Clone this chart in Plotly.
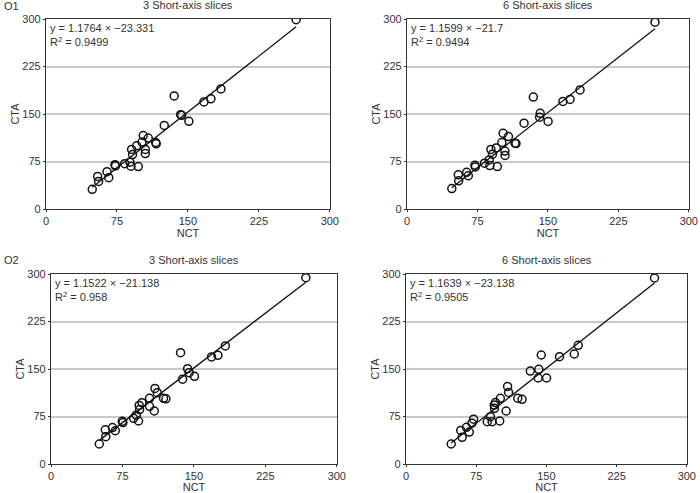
import plotly.graph_objects as go
from plotly.subplots import make_subplots

# ---- data (NCT vs CTA) ----
o1_3_nct = [48.9, 54.6, 55.6, 64.5, 66.3, 72.9, 73.5, 83.2, 88.7, 89.8, 90.5, 91.5, 95.8, 97.5, 102.8,
            101.5, 105, 105, 108.1, 116, 116.5, 125, 135.5, 142.3, 143.5, 151, 166.9, 174.3, 184.9, 264.4]
o1_3_cta = [31, 51.5, 43.6, 58.9, 49.5, 70, 68, 71.5, 74, 67.5, 94, 86, 99.8, 67, 116,
            105.6, 94, 87.5, 112, 105, 103, 131.9, 178.5, 149, 148, 138.5, 169, 174, 189.5, 299]

o1_6_nct = [47.7, 54.6, 55, 63.5, 65.3, 72.3, 72.8, 82.5, 87.5, 88.2, 89.3, 91, 95, 96.2, 102.3,
            101, 104.2, 104.4, 108, 115, 116, 124.6, 134.5, 141.8, 141.2, 150.2, 166, 173.6, 184.2, 264]
o1_6_cta = [32.3, 54, 44.5, 58, 52.5, 69, 66.5, 72.3, 77.5, 68.5, 94, 86.5, 96.5, 67, 119.6,
            105, 91.5, 84.5, 114.4, 104, 103.3, 135.5, 176.8, 151, 145, 138.3, 169.8, 173, 188, 295]

o2_3_nct = [50.7, 57, 57.5, 64.5, 67.5, 74.8, 75.5, 86.7, 89.5, 91.9, 92.6, 93, 95.5, 103.4, 103.4,
            108.4, 109.1, 111.5, 118.1, 120.6, 136, 138.1, 143.4, 145, 150.6, 168.5, 175.2, 183, 267.5]
o2_3_cta = [31.6, 54, 43.2, 57.5, 52.5, 67.5, 65.5, 72.1, 77, 67.9, 92.5, 86, 96.8, 103.7, 91,
            83.7, 119.3, 112.6, 103.7, 103, 175.8, 134, 150.5, 144.2, 138.5, 169, 171.6, 186.5, 294.2]

o2_6_nct = [48.3, 58.5, 60, 64.6, 67.6, 70.5, 72.2, 86.8, 90.3, 92, 94.3, 94.5, 95.6, 100.8, 100.1,
            107, 108.5, 109.6, 119.4, 124, 132.8, 144.5, 141.9, 141.2, 150.2, 164, 179.8, 184, 265.5]
o2_6_cta = [31.6, 53, 42.2, 58, 50.5, 64.5, 70.8, 66.8, 74.7, 66.8, 93, 88, 97, 103.7, 67.9,
            83.7, 122.5, 113, 104, 102.2, 146.8, 172.1, 149.5, 135.8, 135.8, 169.5, 173.7, 187.4, 293.7]

slopes = [1.1764, 1.1599, 1.1522, 1.1639]
intercepts = [-23.331, -21.7, -21.138, -23.138]
eq_text = ["y = 1.1764 × −23.331", "y = 1.1599 × −21.7", "y = 1.1522 × −21.138", "y = 1.1639 × −23.138"]
r2_text = ["0.9499", "0.9494", "0.958", "0.9505"]
titles = ["3 Short-axis slices", "6 Short-axis slices", "3 Short-axis slices", "6 Short-axis slices"]
tick_step = 75

series = [(o1_3_nct, o1_3_cta), (o1_6_nct, o1_6_cta), (o2_3_nct, o2_3_cta), (o2_6_nct, o2_6_cta)]

W, H = 700, 493
# plot areas in pixels: (left, right, top, bottom)
boxes = [(46, 330, 19, 209), (407, 689, 19, 209), (51, 337, 274, 464), (406, 687, 274, 464)]

FONT = "Liberation Sans, Arial, sans-serif"

fig = make_subplots(rows=2, cols=2)

for i, ((xs, ys), pos) in enumerate(zip(series, [(1, 1), (1, 2), (2, 1), (2, 2)])):
    r, c = pos
    x0, x1 = min(xs), max(xs)
    fig.add_trace(go.Scatter(
        x=[x0, x1], y=[slopes[i] * x0 + intercepts[i], slopes[i] * x1 + intercepts[i]],
        mode="lines", line=dict(color="#111", width=1.3), showlegend=False, hoverinfo="skip"),
        row=r, col=c)
    fig.add_trace(go.Scatter(
        x=xs, y=ys, mode="markers", showlegend=False,
        marker=dict(symbol="circle-open", size=8, color="#111", line=dict(width=1.5))),
        row=r, col=c)

axis_style = dict(tickmode="linear", tick0=0, dtick=tick_step, showline=True, mirror=True,
                  automargin=False, linecolor="#333", linewidth=1.2, ticks="outside", ticklen=2,
                  tickcolor="#333", ticklabeloverflow="allow",
                  tickfont=dict(family=FONT, size=11, color="#333"), zeroline=False, fixedrange=True)

for i, (l, rgt, t, b) in enumerate(boxes):
    n = "" if i == 0 else str(i + 1)
    fig.layout["xaxis" + n].update(
        domain=[l / W, rgt / W], showgrid=False, range=[0, 300.2],
        title=dict(text="NCT", font=dict(family=FONT, size=11, color="#333"), standoff=0),
        **axis_style)
    fig.layout["yaxis" + n].update(
        domain=[1 - b / H, 1 - t / H], showgrid=True, gridcolor="#c9c9c9", gridwidth=1.6,
        range=[0, 300],
        title=dict(text="CTA", font=dict(family=FONT, size=11, color="#333"), standoff=0),
        **axis_style)
    # panel title
    fig.add_annotation(x=(l + rgt) / 2 / W, y=1 - (t - 14) / H, xref="paper", yref="paper",
                       text=titles[i], showarrow=False, xanchor="center", yanchor="middle",
                       font=dict(family=FONT, size=11, color="#333"))
    # equation and R²
    fig.add_annotation(x=(l + 2) / W, y=1 - (t + 1) / H, xref="paper", yref="paper",
                       text=eq_text[i] + "<br>R<sup>2</sup> = " + r2_text[i], showarrow=False,
                       xanchor="left", yanchor="top", align="left",
                       font=dict(family=FONT, size=11, color="#333"))

for lab, ypx in [("O1", 6), ("O2", 260)]:
    fig.add_annotation(x=2 / W, y=1 - ypx / H, xref="paper", yref="paper", text=lab,
                       showarrow=False, xanchor="left", yanchor="middle",
                       font=dict(family=FONT, size=11, color="#333"))

fig.update_layout(width=W, height=H, margin=dict(l=0, r=0, t=0, b=0),
                  paper_bgcolor="white", plot_bgcolor="white")

# drop the default page margin so the figure sits at the window's top-left corner
fig.write_html("out.html", config={"displayModeBar": False},
               post_script="document.body.style.margin='0';")
